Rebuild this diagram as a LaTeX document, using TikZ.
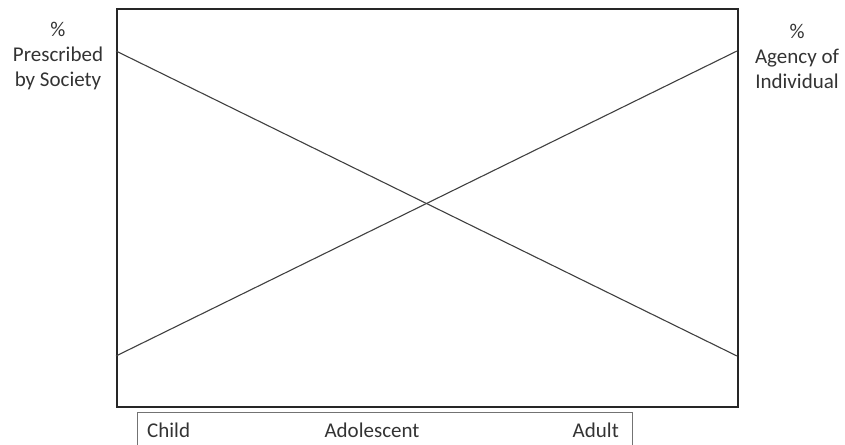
\documentclass[tikz,border=0pt]{standalone}
\usepackage{fontspec}
\setmainfont{Carlito}
\begin{document}
\begin{tikzpicture}[x=1pt,y=-1pt,
  lbl/.style={font=\fontsize{21}{25}\selectfont, align=center, text=black!80, inner sep=0pt},
  trend/.style={draw=black!75, line width=1.1pt}]
\useasboundingbox (0,0) rectangle (845,444);
\node[draw=black!85, line width=1.6pt, minimum width=621pt, minimum height=398pt, anchor=north west, inner sep=0pt] (frame) at (116,8) {};
\coordinate (lt) at (116,51);
\coordinate (lb) at (116,356);
\coordinate (rt) at (737,51);
\coordinate (rb) at (737,356);
\draw[trend] (lt) -- (rb);
\draw[trend] (lb) -- (rt);
\node[lbl] (society) at (58,56) {\%\\Prescribed\\by Society};
\node[lbl] (agency) at (797,56) {\%\\Agency of\\Individual};
\draw[draw=black!55, line width=1pt] (137,460) -- (137,412) -- (632,412) -- (632,460);
\node[lbl, anchor=base west] (child) at (147,437) {Child};
\node[lbl, anchor=base] (adol) at (372,437) {Adolescent};
\node[lbl, anchor=base east] (adult) at (619,437) {Adult};
\end{tikzpicture}
\end{document}
